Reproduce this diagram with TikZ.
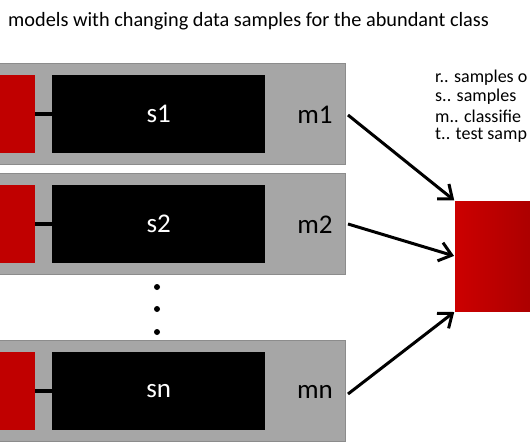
\documentclass[tikz,border=0pt]{standalone}
\usepackage{fontspec}
\setmainfont{Carlito}
\usetikzlibrary{arrows.meta}
\definecolor{boxgray}{HTML}{A6A6A6}
\definecolor{edgegray}{HTML}{8C8C8C}
\definecolor{darkred}{HTML}{C00000}
\definecolor{shadeleft}{HTML}{CC0000}
\definecolor{shaderight}{HTML}{A80000}
\tikzset{
  rowbox/.style={draw=edgegray, fill=boxgray, line width=1.2pt, rectangle, inner sep=0pt, anchor=north west, minimum width=350pt, minimum height=101pt},
  redbox/.style={fill=darkred, draw=none, rectangle, inner sep=0pt, anchor=north west, minimum width=40pt, minimum height=78pt},
  sbox/.style={fill=black, draw=none, rectangle, inner sep=0pt, anchor=north west, minimum width=213pt, minimum height=78pt, text=white, font=\fontsize{27}{32}\selectfont},
  mlabel/.style={inner sep=2pt, font=\fontsize{27}{32}\selectfont, text=black},
  link/.style={draw=black, line width=3.5pt},
  vote/.style={draw=black, line width=3pt, -{Straight Barb[length=12pt,width=19pt,line width=3pt]}, shorten >=1pt},
  dot/.style={circle, fill=black, inner sep=0pt, minimum size=6pt},
  legend/.style={anchor=west, inner sep=0pt, font=\fontsize{18}{19}\selectfont},
}
\begin{document}
\begin{tikzpicture}[x=1pt,y=-1pt]
\useasboundingbox (0,0) rectangle (530,442);
\fill[white] (0,0) rectangle (530,442);
\clip (0,0) rectangle (530,442);

\node[anchor=west, inner sep=0pt, font=\fontsize{20.3}{24}\selectfont] (title) at (8,21) {models with changing data samples for the abundant class};

% row 1
\node[rowbox] (g1) at (-5,63) {};
\node[redbox] (r1) at (-5,75) {};
\node[sbox] (s1) at (52,75) {s1};
\draw[link] (r1.east) -- (s1.west);
\node[mlabel] (m1) at (315,115) {m1};

% row 2
\node[rowbox] (g2) at (-5,173) {};
\node[redbox] (r2) at (-5,185) {};
\node[sbox] (s2) at (52,185) {s2};
\draw[link] (r2.east) -- (s2.west);
\node[mlabel] (m2) at (315,225) {m2};

% dots
\node[dot] (d1) at (157,287) {};
\node[dot] (d2) at (157,309) {};
\node[dot] (d3) at (157,332) {};

% row 3
\node[rowbox] (g3) at (-5,340) {};
\node[redbox] (r3) at (-5,352) {};
\node[sbox] (s3) at (52,352) {sn};
\draw[link] (r3.east) -- (s3.west);
\node[mlabel] (m3) at (315,392) {mn};

% combiner
\node[rectangle, inner sep=0pt, anchor=north west, minimum width=85pt, minimum height=110pt,
      left color=shadeleft, right color=shaderight] (big) at (455,201) {};

\draw[vote] (348,115) -- (big.north west);
\draw[vote] (348,224) -- (big.west);
\draw[vote] (348,394) -- (big.south west);

% legend
\node[legend] (l1) at (435,78) {r.. samples o};
\node[legend] (l2) at (435,97) {s.. samples};
\node[legend] (l3) at (435,116) {m.. classifie};
\node[legend] (l4) at (435,135) {t.. test samp};
\end{tikzpicture}
\end{document}
